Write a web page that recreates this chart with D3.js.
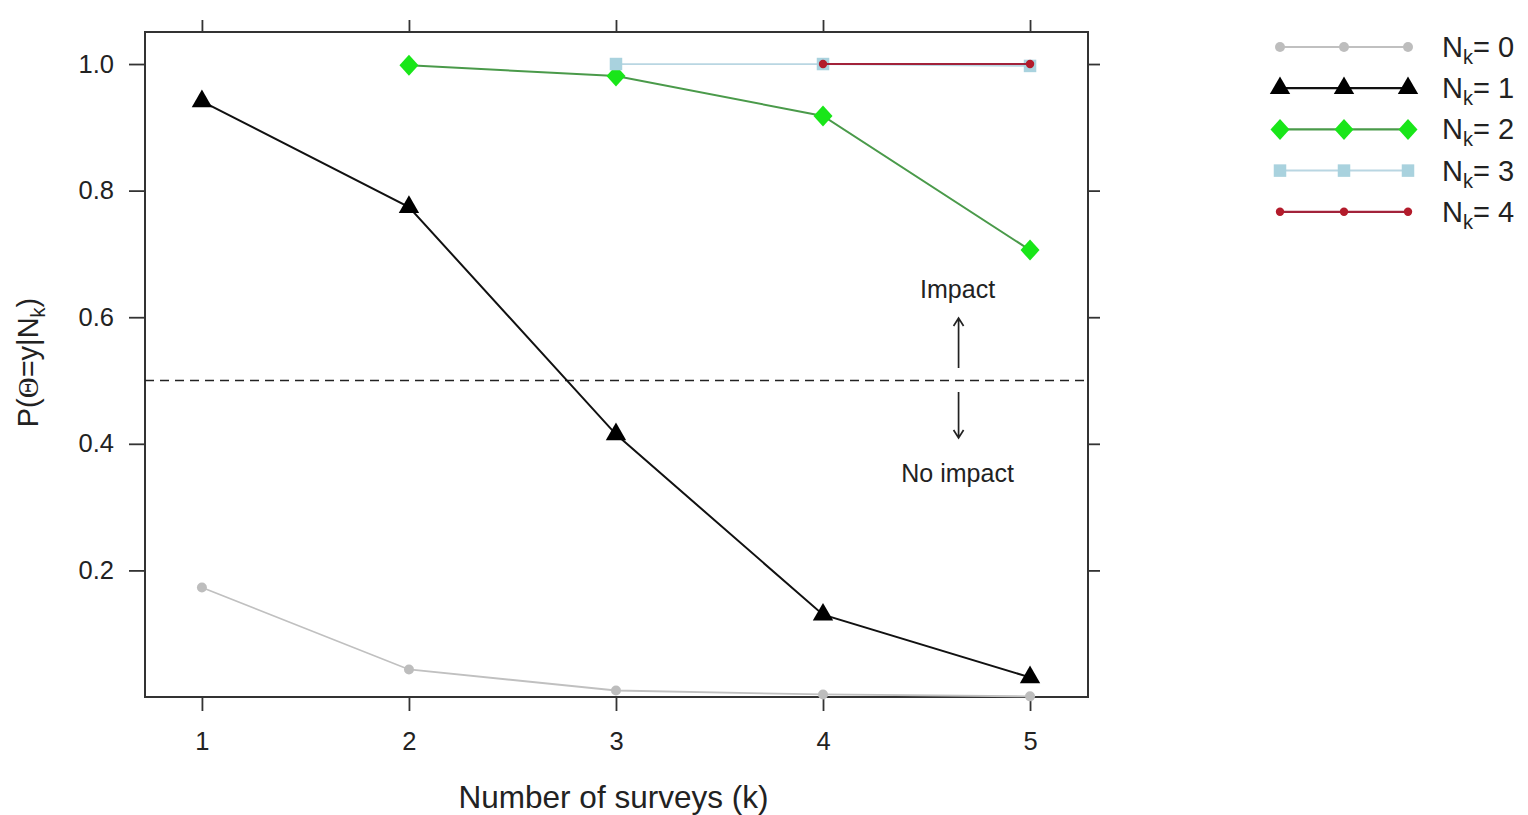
<!DOCTYPE html>
<html>
<head>
<meta charset="utf-8">
<script src="https://cdn.jsdelivr.net/npm/d3@7"></script>
<style>
  html, body { margin: 0; padding: 0; background: #fff; }
  svg { display: block; }
  text { font-family: "Liberation Sans", Arial, sans-serif; fill: #222; }
</style>
</head>
<body>
<svg id="chart" width="1528" height="815"></svg>
<script>
// Number of surveys on the x axis
const surveys = [1, 2, 3, 4, 5];

// Probability of impact for each count N_k (null = not defined for that k)
const nk0 = [0.173, 0.0435, 0.0103, 0.004, 0.001];
const nk1 = [0.941, 0.774, 0.415, 0.130, 0.031];
const nk2 = [null, 0.998, 0.981, 0.918, 0.706];
const nk3 = [null, null, 1.0, 1.0, 0.997];
const nk4 = [null, null, null, 1.0, 1.0];

const seriesLabels = ["0", "1", "2", "3", "4"];
const yTickValues = [0.2, 0.4, 0.6, 0.8, 1.0];
const xTickValues = [1, 2, 3, 4, 5];
const threshold = 0.5;

const series = [
  { key: seriesLabels[0], values: nk0, line: "#c0c0c0", fill: "#bdbdbd", shape: "circle", lw: 1.8 },
  { key: seriesLabels[1], values: nk1, line: "#111111", fill: "#000000", shape: "triangle", lw: 2 },
  { key: seriesLabels[2], values: nk2, line: "#4a9a4a", fill: "#19e619", shape: "diamond", lw: 2 },
  { key: seriesLabels[3], values: nk3, line: "#b9d6e2", fill: "#a9d2de", shape: "square", lw: 1.8 },
  { key: seriesLabels[4], values: nk4, line: "#a2223a", fill: "#b31b2b", shape: "dot", lw: 2 }
];

const svg = d3.select("#chart");
const plot = { left: 145, right: 1088, top: 32, bottom: 697 };

const x = d3.scaleLinear().domain([0.725, 5.28]).range([plot.left, plot.right]);
const y = d3.scaleLinear().domain([0, 1.0506]).range([plot.bottom, plot.top]);

const frameColor = "#333";
const tickLen = 14;

// Axes: ticks outside on all four sides, labels only bottom and left
const axisStyle = g => {
  g.select(".domain").remove();
  g.selectAll(".tick line").attr("stroke", frameColor).attr("stroke-width", 1.8);
  g.selectAll(".tick text").style("font-size", "25.5px").attr("fill", "#222");
};

svg.append("g")
  .attr("transform", `translate(0,${plot.bottom})`)
  .call(d3.axisBottom(x).tickValues(xTickValues).tickFormat(d3.format("d")).tickSize(tickLen).tickPadding(21))
  .call(axisStyle);

svg.append("g")
  .attr("transform", `translate(0,${plot.top})`)
  .call(d3.axisTop(x).tickValues(xTickValues).tickFormat("").tickSize(tickLen - 2))
  .call(axisStyle);

svg.append("g")
  .attr("transform", `translate(${plot.left},0)`)
  .call(d3.axisLeft(y).tickValues(yTickValues).tickFormat(d3.format(".1f")).tickSize(tickLen + 2).tickPadding(15))
  .call(axisStyle);

svg.append("g")
  .attr("transform", `translate(${plot.right},0)`)
  .call(d3.axisRight(y).tickValues(yTickValues).tickFormat("").tickSize(tickLen - 2))
  .call(axisStyle);

// Panel frame
svg.append("rect")
  .attr("x", plot.left).attr("y", plot.top)
  .attr("width", plot.right - plot.left).attr("height", plot.bottom - plot.top)
  .attr("fill", "none").attr("stroke", frameColor).attr("stroke-width", 2);

// Threshold line
svg.append("line")
  .attr("x1", plot.left).attr("x2", plot.right)
  .attr("y1", y(threshold)).attr("y2", y(threshold))
  .attr("stroke", "#222").attr("stroke-width", 1.7)
  .attr("stroke-dasharray", "9,6");

// Marker drawing
function marker(g, shape, cx, cy, fill) {
  if (shape === "triangle") {
    g.append("path")
      .attr("d", d3.symbol().type(d3.symbolTriangle).size(180)())
      .attr("transform", `translate(${cx},${cy})`)
      .attr("fill", fill);
  } else if (shape === "diamond") {
    const w = 9.5, h = 10.5;
    g.append("path")
      .attr("d", `M${cx},${cy - h}L${cx + w},${cy}L${cx},${cy + h}L${cx - w},${cy}Z`)
      .attr("fill", fill);
  } else if (shape === "square") {
    const s = 12.5;
    g.append("rect")
      .attr("x", cx - s / 2).attr("y", cy - s / 2)
      .attr("width", s).attr("height", s)
      .attr("fill", fill);
  } else if (shape === "circle") {
    g.append("circle").attr("cx", cx).attr("cy", cy).attr("r", 5).attr("fill", fill);
  } else {
    g.append("circle").attr("cx", cx).attr("cy", cy).attr("r", 4.2).attr("fill", fill);
  }
}

const lineGen = d3.line()
  .defined(d => d.v !== null)
  .x(d => x(d.k))
  .y(d => y(d.v));

const seriesLayer = svg.append("g");
series.forEach(s => {
  const pts = surveys.map((k, i) => ({ k, v: s.values[i] }));
  const g = seriesLayer.append("g");
  g.append("path")
    .datum(pts)
    .attr("d", lineGen)
    .attr("fill", "none")
    .attr("stroke", s.line)
    .attr("stroke-width", s.lw);
  pts.filter(d => d.v !== null).forEach(d => marker(g, s.shape, x(d.k), y(d.v), s.fill));
});

// Annotation: impact / no impact
const ax = x(4.65);
svg.append("text").attr("x", ax).attr("y", 298)
  .attr("text-anchor", "middle").style("font-size", "25px").text("Impact");
svg.append("text").attr("x", ax).attr("y", 482)
  .attr("text-anchor", "middle").style("font-size", "25px").text("No impact");

function arrow(x0, yFrom, yTo) {
  const dir = Math.sign(yTo - yFrom);
  svg.append("path")
    .attr("d", `M${x0},${yFrom}L${x0},${yTo}M${x0 - 5},${yTo - dir * 8}L${x0},${yTo}L${x0 + 5},${yTo - dir * 8}`)
    .attr("fill", "none").attr("stroke", "#222").attr("stroke-width", 1.7);
}
arrow(ax + 1, 368, 318);
arrow(ax + 1, 392, 438);

// Axis titles
svg.append("text")
  .attr("x", (plot.left + plot.right) / 2 - 3).attr("y", 808)
  .attr("text-anchor", "middle").style("font-size", "31.5px")
  .text("Number of surveys (k)");

const yTitle = svg.append("text")
  .attr("transform", `translate(38,${(plot.top + plot.bottom) / 2 - 2}) rotate(-90)`)
  .attr("text-anchor", "middle").style("font-size", "29px");
yTitle.append("tspan").text("P(");
yTitle.append("tspan").style("font-family", "'Liberation Serif', serif").text("Θ");
yTitle.append("tspan").text("=y|N");
yTitle.append("tspan").attr("dy", 7).style("font-size", "20px").text("k");
yTitle.append("tspan").attr("dy", -7).text(")");

// Legend
const legend = svg.append("g");
const legendRowY = i => 47 + i * 41.2;
const legendX = [1280, 1344, 1408];
series.forEach((s, i) => {
  const cy = legendRowY(i);
  legend.append("line")
    .attr("x1", legendX[0]).attr("x2", legendX[2])
    .attr("y1", cy).attr("y2", cy)
    .attr("stroke", s.line).attr("stroke-width", s.lw + 0.2);
  legendX.forEach(cx => marker(legend, s.shape, cx, cy, s.fill));
  const t = legend.append("text")
    .attr("x", 1442).attr("y", cy + 10)
    .style("font-size", "29px");
  t.append("tspan").text("N");
  t.append("tspan").attr("dy", 7).style("font-size", "20px").text("k");
  t.append("tspan").attr("dy", -7).text("= " + s.key);
});
</script>
</body>
</html>
